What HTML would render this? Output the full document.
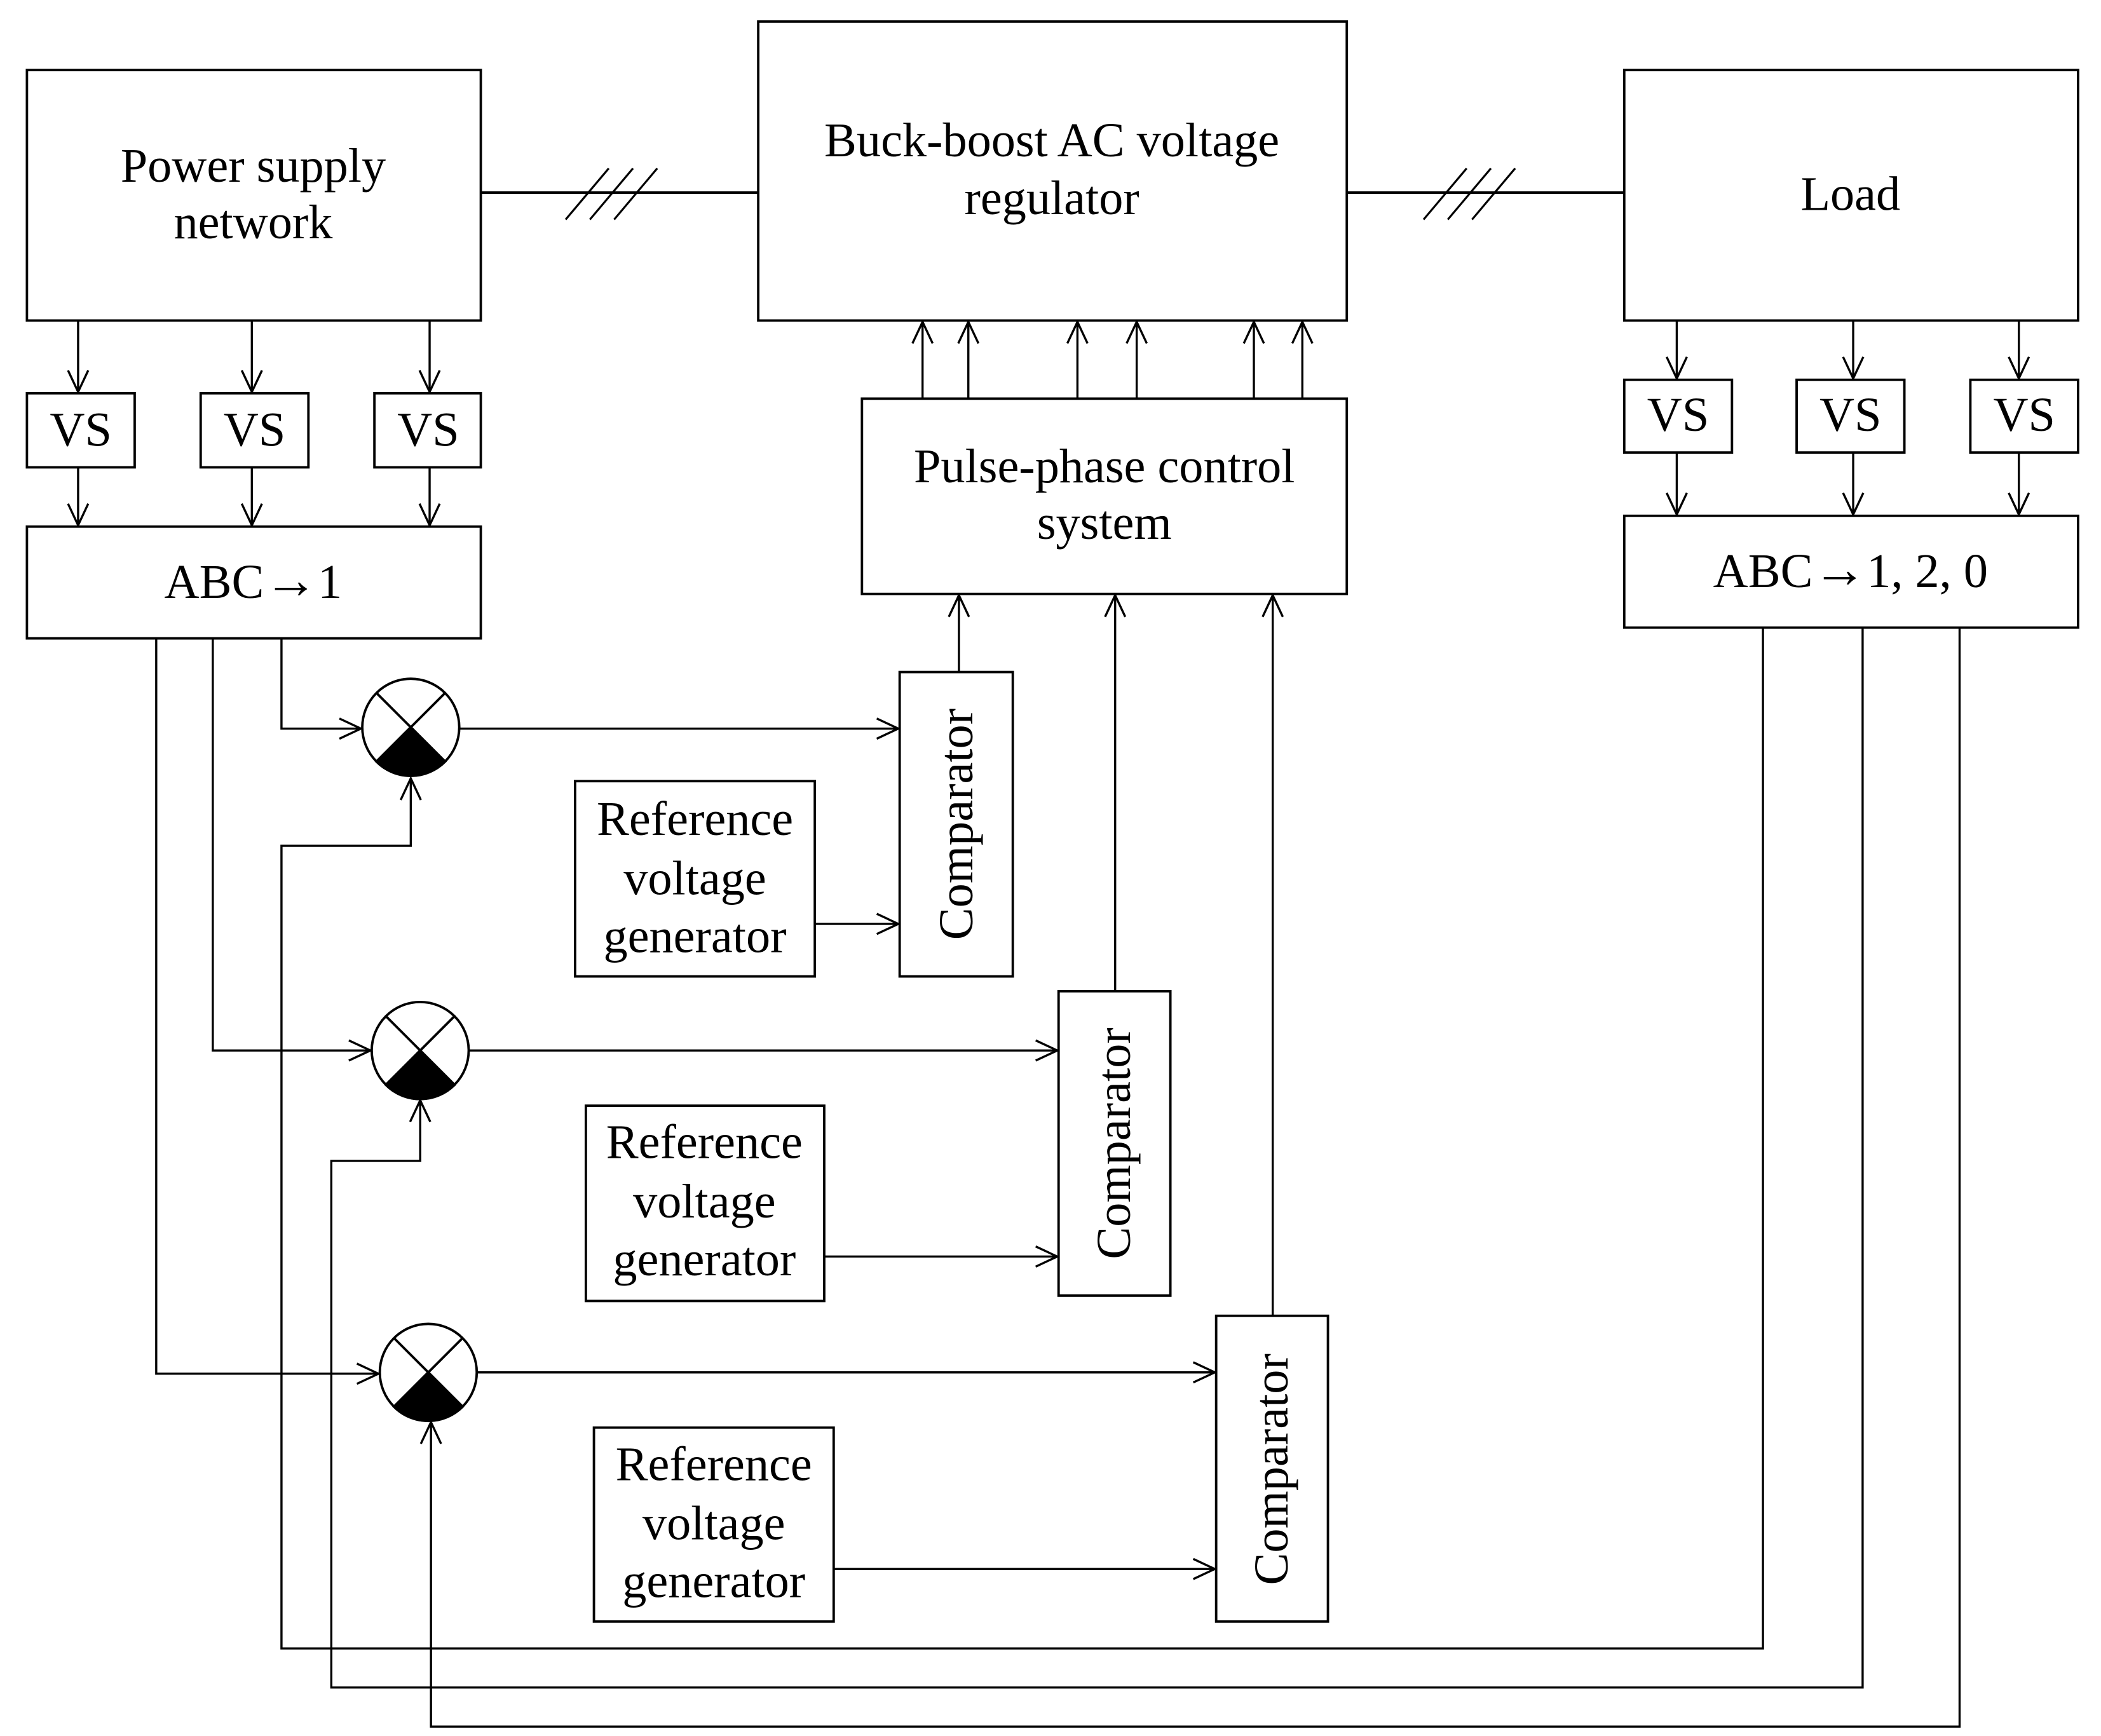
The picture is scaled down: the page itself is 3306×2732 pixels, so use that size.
<!DOCTYPE html>
<html><head><meta charset="utf-8"><style>html,body{margin:0;padding:0;background:#fff}svg{display:block}</style></head>
<body>
<svg width="3306" height="2732" viewBox="0 0 1560 1289" preserveAspectRatio="none" xmlns="http://www.w3.org/2000/svg">
<defs>
<marker id="a" viewBox="-18 -10 20 20" refX="0" refY="0" markerWidth="20" markerHeight="20" markerUnits="userSpaceOnUse" orient="auto">
<polyline points="-16,-7.5 0,0 -16,7.5" fill="none" stroke="#000" stroke-width="1.6"/>
</marker>
</defs>
<g fill="none" stroke="#000" stroke-width="1.8">
<rect x="20" y="52" width="337" height="186"/>
<rect x="563" y="16" width="437" height="222"/>
<rect x="1206" y="52" width="337" height="186"/>
<rect x="20" y="292" width="80" height="55"/>
<rect x="149" y="292" width="80" height="55"/>
<rect x="278" y="292" width="79" height="55"/>
<rect x="20" y="391" width="337" height="83"/>
<rect x="640" y="296" width="360" height="145"/>
<rect x="1206" y="282" width="80" height="54"/>
<rect x="1334" y="282" width="80" height="54"/>
<rect x="1463" y="282" width="80" height="54"/>
<rect x="1206" y="383" width="337" height="83"/>
<rect x="668" y="499" width="84" height="226"/>
<rect x="786" y="736" width="83" height="226"/>
<rect x="903" y="977" width="83" height="227"/>
<rect x="427" y="580" width="178" height="145"/>
<rect x="435" y="821" width="177" height="145"/>
<rect x="441" y="1060" width="178" height="144"/>
<line x1="357" y1="143" x2="563" y2="143"/>
<line x1="1000" y1="143" x2="1206" y2="143"/>
<g stroke-width="1.5">
<line x1="420" y1="163" x2="452" y2="125"/><line x1="438" y1="163" x2="470" y2="125"/><line x1="456" y1="163" x2="488" y2="125"/>
<line x1="1057" y1="163" x2="1089" y2="125"/><line x1="1075" y1="163" x2="1107" y2="125"/><line x1="1093" y1="163" x2="1125" y2="125"/>
</g>
</g>
<g fill="none" stroke="#000" stroke-width="1.6" marker-end="url(#a)">
<line x1="58" y1="238" x2="58" y2="291"/><line x1="187" y1="238" x2="187" y2="291"/><line x1="319" y1="238" x2="319" y2="291"/>
<line x1="58" y1="347" x2="58" y2="390"/><line x1="187" y1="347" x2="187" y2="390"/><line x1="319" y1="347" x2="319" y2="390"/>
<line x1="1245" y1="238" x2="1245" y2="281"/><line x1="1376" y1="238" x2="1376" y2="281"/><line x1="1499" y1="238" x2="1499" y2="281"/>
<line x1="1245" y1="336" x2="1245" y2="382"/><line x1="1376" y1="336" x2="1376" y2="382"/><line x1="1499" y1="336" x2="1499" y2="382"/>
<line x1="685" y1="296" x2="685" y2="239"/><line x1="719" y1="296" x2="719" y2="239"/><line x1="800" y1="296" x2="800" y2="239"/><line x1="844" y1="296" x2="844" y2="239"/><line x1="931" y1="296" x2="931" y2="239"/><line x1="967" y1="296" x2="967" y2="239"/>
<polyline points="209,474 209,541 268,541"/>
<polyline points="158,474 158,780 275,780"/>
<polyline points="116,474 116,1020 281,1020"/>
<line x1="341" y1="541" x2="667" y2="541"/>
<line x1="605" y1="686" x2="667" y2="686"/>
<line x1="348" y1="780" x2="785" y2="780"/>
<line x1="612" y1="933" x2="785" y2="933"/>
<line x1="354" y1="1019" x2="902" y2="1019"/>
<line x1="619" y1="1165" x2="902" y2="1165"/>
<line x1="712" y1="499" x2="712" y2="442"/>
<line x1="828" y1="736" x2="828" y2="442"/>
<line x1="945" y1="977" x2="945" y2="442"/>
<polyline points="1309,466 1309,1224 209,1224 209,628 305,628 305,578"/>
<polyline points="1383,466 1383,1253 246,1253 246,862 312,862 312,817"/>
<polyline points="1455,466 1455,1282 320,1282 320,1056"/>
</g>
<g stroke="#000" stroke-width="1.8">
<g transform="translate(305,540)"><circle r="36" fill="#fff"/><path d="M0,0 L25.5,25.5 A36,36 0 0 1 -25.5,25.5 Z" fill="#000"/><line x1="-25.5" y1="-25.5" x2="25.5" y2="25.5"/><line x1="25.5" y1="-25.5" x2="-25.5" y2="25.5"/></g>
<g transform="translate(312,780)"><circle r="36" fill="#fff"/><path d="M0,0 L25.5,25.5 A36,36 0 0 1 -25.5,25.5 Z" fill="#000"/><line x1="-25.5" y1="-25.5" x2="25.5" y2="25.5"/><line x1="25.5" y1="-25.5" x2="-25.5" y2="25.5"/></g>
<g transform="translate(318,1019)"><circle r="36" fill="#fff"/><path d="M0,0 L25.5,25.5 A36,36 0 0 1 -25.5,25.5 Z" fill="#000"/><line x1="-25.5" y1="-25.5" x2="25.5" y2="25.5"/><line x1="25.5" y1="-25.5" x2="-25.5" y2="25.5"/></g>
</g>
<g font-family="Liberation Serif, serif" font-size="36" text-anchor="middle" fill="#000">
<text x="188" y="135">Power supply</text><text x="188" y="177">network</text>
<text x="781" y="116">Buck-boost AC voltage</text><text x="781" y="159">regulator</text>
<text x="1374" y="156">Load</text>
<text x="60" y="331">VS</text><text x="189" y="331">VS</text><text x="318" y="331">VS</text>
<text x="1246" y="320">VS</text><text x="1374" y="320">VS</text><text x="1503" y="320">VS</text>
<text x="188" y="444">ABC<tspan font-size="40">→</tspan>1</text>
<text x="1374" y="436">ABC<tspan font-size="40">→</tspan>1, 2, 0</text>
<text x="820" y="358">Pulse-phase control</text><text x="820" y="400">system</text>
<text x="516" y="620">Reference</text><text x="516" y="664">voltage</text><text x="516" y="707">generator</text>
<text x="523" y="860">Reference</text><text x="523" y="904">voltage</text><text x="523" y="947">generator</text>
<text x="530" y="1099">Reference</text><text x="530" y="1143">voltage</text><text x="530" y="1186">generator</text>
<text transform="translate(722,612) rotate(-90)">Comparator</text>
<text transform="translate(839,849) rotate(-90)">Comparator</text>
<text transform="translate(956,1091) rotate(-90)">Comparator</text>
</g>
</svg>
</body></html>
